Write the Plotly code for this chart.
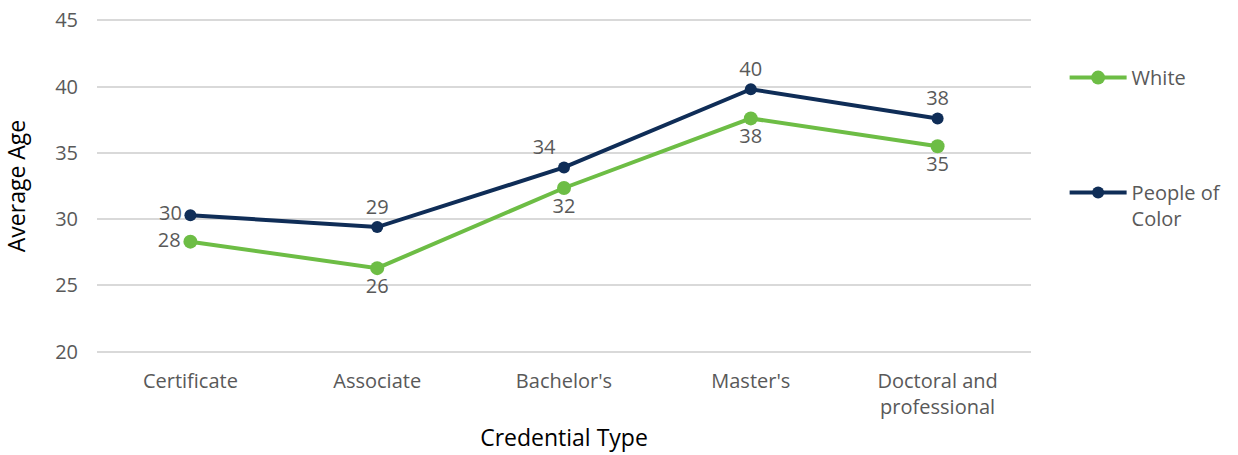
import plotly.graph_objects as go

categories = ["Certificate", "Associate", "Bachelor's", "Master's", "Doctoral and<br>professional"]
white = [28.3, 26.3, 32.35, 37.6, 35.5]
poc = [30.3, 29.4, 33.9, 39.8, 37.6]
white_labels = ["28", "26", "32", "38", "35"]
poc_labels = ["30", "29", "34", "40", "38"]
white_pos = ["middle left", "bottom center", "bottom center", "bottom center", "bottom center"]
poc_pos = ["middle left", "top center", "top left", "top center", "top center"]

GREEN = "#6dbd45"
NAVY = "#0f2d57"
GRAY = "#595959"
FONT = "Open Sans, sans-serif"

fig = go.Figure()
fig.add_trace(go.Scatter(
    x=categories, y=white, name="White", mode="lines+markers+text",
    line=dict(color=GREEN, width=4), marker=dict(color=GREEN, size=14),
    text=white_labels, textposition=white_pos,
    textfont=dict(size=20, color=GRAY, family=FONT),
    legendgroup="w", cliponaxis=False,
))
fig.add_trace(go.Scatter(
    x=categories, y=poc, name="People of<br>Color", mode="lines+markers+text",
    line=dict(color=NAVY, width=4), marker=dict(color=NAVY, size=12),
    text=poc_labels, textposition=poc_pos,
    textfont=dict(size=20, color=GRAY, family=FONT),
    legendgroup="p", cliponaxis=False,
))

fig.update_layout(
    width=1238, height=455,
    margin=dict(l=97, r=207, t=19, b=102, autoexpand=False),
    paper_bgcolor="white", plot_bgcolor="white",
    font=dict(family=FONT, color=GRAY, size=20),
    legend=dict(x=1.036, y=0.883, xanchor="left", yanchor="top", valign="top",
                font=dict(size=20, color=GRAY, family=FONT),
                tracegroupgap=86, itemwidth=57, traceorder="grouped"),
    xaxis=dict(
        title=dict(text="Credential Type", font=dict(size=23, color="black", family=FONT), standoff=10),
        range=[-0.5, 4.5], automargin=False, ticklabelstandoff=14,
        showgrid=False, showline=False, ticks="", tickfont=dict(size=20, color=GRAY),
    ),
    yaxis=dict(
        title=dict(text="Average Age", font=dict(size=23, color="black", family=FONT), standoff=26),
        range=[19.9, 45.1], tickvals=[20, 25, 30, 35, 40, 45], showgrid=True,
        gridcolor="#d9d9d9", gridwidth=2, ticklabeloverflow="allow",
        zeroline=False, showline=False, ticks="", ticklabelstandoff=18, automargin=False,
        tickfont=dict(size=20, color=GRAY),
    ),
)

fig.write_html("out.html", config={"displayModeBar": False},
               post_script="document.body.style.margin='0';document.body.style.overflow='hidden';")
